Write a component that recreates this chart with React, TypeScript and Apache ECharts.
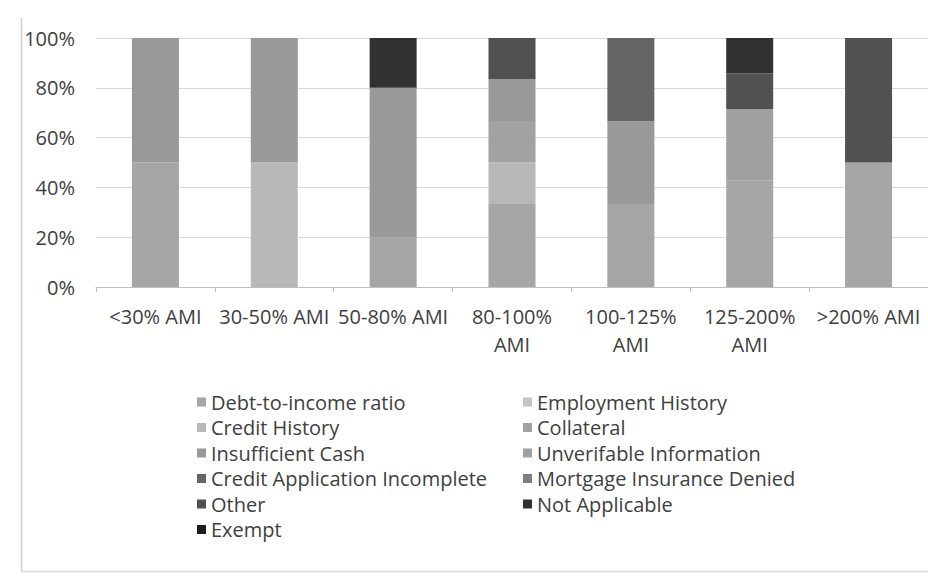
import React, { useEffect, useRef } from "react";
import * as echarts from "echarts";

const categories = [
  "<30% AMI",
  "30-50% AMI",
  "50-80% AMI",
  "80-100%\nAMI",
  "100-125%\nAMI",
  "125-200%\nAMI",
  ">200% AMI",
];

const yTicks = [0, 20, 40, 60, 80, 100];

const seriesNames = [
  "Debt-to-income ratio",
  "Employment History",
  "Credit History",
  "Collateral",
  "Insufficient Cash",
  "Unverifable Information",
  "Credit Application Incomplete",
  "Mortgage Insurance Denied",
  "Other",
  "Not Applicable",
  "Exempt",
];

const seriesColors = [
  "#a6a6a6",
  "#c4c4c4",
  "#b8b8b8",
  "#a2a2a2",
  "#999999",
  "#a0a0a0",
  "#656565",
  "#7e7e7e",
  "#515151",
  "#313131",
  "#1c1c1c",
];

// percent shares per category
const debtToIncome = [50, 0, 20, 33.3, 33.3, 42.9, 50];
const employmentHistory = [0, 0, 0, 0, 0, 0, 0];
const creditHistory = [0, 50, 0, 16.7, 0, 0, 0];
const collateral = [0, 0, 0, 16.7, 0, 0, 0];
const insufficientCash = [50, 50, 60, 16.7, 33.3, 0, 0];
const unverifiable = [0, 0, 0, 0, 0, 28.6, 0];
const creditAppIncomplete = [0, 0, 0, 0, 33.4, 0, 0];
const mortgageInsuranceDenied = [0, 0, 0, 0, 0, 0, 0];
const other = [0, 0, 0, 16.6, 0, 14.2, 50];
const notApplicable = [0, 0, 20, 0, 0, 14.3, 0];
const exempt = [0, 0, 0, 0, 0, 0, 0];

const seriesData = [
  debtToIncome,
  employmentHistory,
  creditHistory,
  collateral,
  insufficientCash,
  unverifiable,
  creditAppIncomplete,
  mortgageInsuranceDenied,
  other,
  notApplicable,
  exempt,
];

const legendCol1 = [0, 2, 4, 6, 8, 10].map((i) => seriesNames[i]);
const legendCol2 = [1, 3, 5, 7, 9].map((i) => seriesNames[i]);

const FONT = "Open Sans";
const TEXT = "#404040";
const FS = 20;

export default function App() {
  const ref = useRef<HTMLDivElement>(null);
  useEffect(() => {
    if (!ref.current) return;
    const chart = echarts.init(ref.current, undefined, { renderer: "svg" });
    const legendCommon = {
      orient: "vertical" as const,
      top: 392,
      padding: 0,
      itemWidth: 9,
      itemHeight: 9,
      itemGap: 5.5,
      icon: "rect",
      textStyle: { fontFamily: FONT, fontSize: FS, color: TEXT, lineHeight: 20 },
    };
    chart.setOption({
      animation: false,
      backgroundColor: "#ffffff",
      color: seriesColors,
      grid: { left: 96, top: 38, width: 840, height: 249, containLabel: false },
      legend: [
        { ...legendCommon, left: 197, data: legendCol1 },
        { ...legendCommon, left: 523, data: legendCol2 },
      ],
      xAxis: {
        type: "category",
        data: categories,
        axisLine: { lineStyle: { color: "#bfbfbf", width: 1 } },
        axisTick: { show: true, length: 5, lineStyle: { color: "#bfbfbf" } },
        axisLabel: {
          fontFamily: FONT,
          fontSize: FS,
          color: TEXT,
          lineHeight: 28,
          margin: 15,
          interval: 0,
        },
      },
      yAxis: {
        type: "value",
        min: yTicks[0],
        max: yTicks[yTicks.length - 1],
        interval: 20,
        axisLine: { show: false },
        axisTick: { show: false },
        splitLine: { lineStyle: { color: "#d9d9d9", width: 1 } },
        axisLabel: {
          fontFamily: FONT,
          fontSize: FS,
          color: TEXT,
          margin: 21,
          formatter: "{value}%",
        },
      },
      graphic: [
        {
          type: "line",
          shape: { x1: 21.5, y1: 18, x2: 21.5, y2: 571 },
          style: { stroke: "#cfcfcf", lineWidth: 1.5 },
        },
        {
          type: "line",
          shape: { x1: 21, y1: 571.5, x2: 928, y2: 571.5 },
          style: { stroke: "#d6d6d6", lineWidth: 1.5 },
        },
      ],
      series: seriesNames.map((name, i) => ({
        name,
        type: "bar",
        stack: "total",
        barWidth: 47,
        data: seriesData[i],
        itemStyle: { color: seriesColors[i] },
      })),
    });
    return () => chart.dispose();
  }, []);
  return (
    <div
      ref={ref}
      style={{ position: "absolute", left: 0, top: 0, width: 928, height: 577 }}
    />
  );
}
